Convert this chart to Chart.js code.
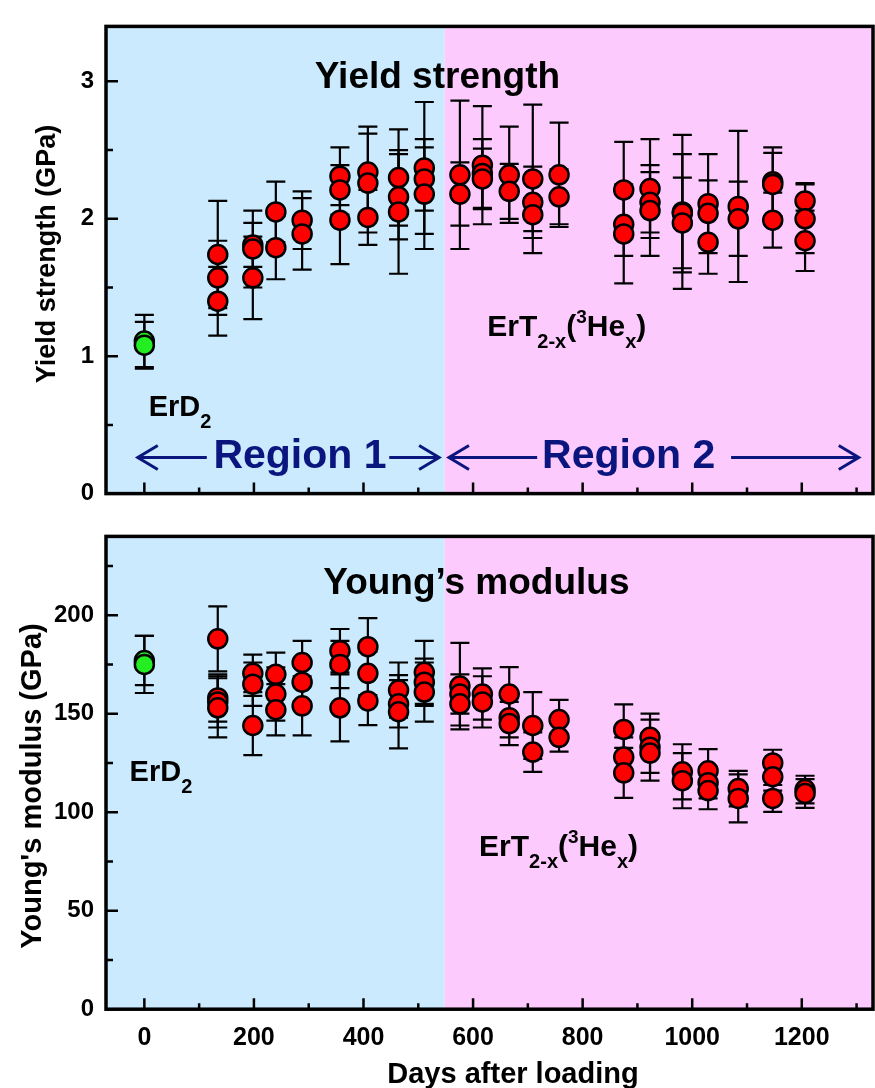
<!DOCTYPE html>
<html>
<head>
<meta charset="utf-8">
<script src="https://cdn.jsdelivr.net/npm/chart.js@4.4.1/dist/chart.umd.min.js"></script>
<style>
  body { margin: 0; background: #fff; }
  #wrap { position: relative; width: 875px; height: 1088px; overflow: hidden; }
  canvas { position: absolute; left: 0; }
  #ysChart { top: 0; }
  #ymChart { top: 510px; }
</style>
</head>
<body>
<div id="wrap">
  <canvas id="ysChart" width="875" height="520"></canvas>
  <canvas id="ymChart" width="875" height="578"></canvas>
</div>
<script>
// ---- data ----
const dayMin = -70;
const dayMax = 1330;
const regionSplit = 548;
const dayTicks = [0, 200, 400, 600, 800, 1000, 1200];
const dayMinorTicks = [100, 300, 500, 700, 900, 1100, 1300];
const yieldTicks = [0, 1, 2, 3];
const yieldMinorTicks = [0.5, 1.5, 2.5];
const modulusTicks = [0, 50, 100, 150, 200];
const modulusMinorTicks = [25, 75, 125, 175, 225];

// ErD2 (green)
const erd2Days = [0, 0];
const erd2Yield = [1.11, 1.08];
const erd2YieldErr = [0.19, 0.17];
const erd2Modulus = [177, 175];
const erd2ModulusErr = [12.5, 14.5];

// ErT2-x(3Hex) (red)
const ertYieldDays = [134, 134, 134, 198, 198, 198, 240, 240, 288, 288, 357, 357, 357, 408, 408, 408,
  464, 464, 464, 511, 511, 511, 576, 576, 617, 617, 617, 666, 666, 709, 709, 709, 757, 757,
  875, 875, 875, 923, 923, 923, 982, 982, 982, 1029, 1029, 1029, 1084, 1084, 1147, 1147, 1147,
  1206, 1206, 1206];
const ertYield = [1.74, 1.57, 1.40, 1.81, 1.78, 1.57, 2.05, 1.79, 1.99, 1.89, 2.31, 2.21, 1.99, 2.34, 2.26, 2.01,
  2.30, 2.16, 2.05, 2.37, 2.29, 2.18, 2.32, 2.18, 2.39, 2.33, 2.29, 2.32, 2.20, 2.29, 2.12, 2.03, 2.32, 2.16,
  2.21, 1.96, 1.89, 2.22, 2.12, 2.06, 2.05, 2.04, 1.97, 2.11, 2.04, 1.83, 2.09, 2.00, 2.27, 2.25, 1.99,
  2.13, 2.00, 1.84];
const ertYieldErr = [0.39, 0.27, 0.25, 0.16, 0.28, 0.30, 0.22, 0.23, 0.21, 0.26, 0.21, 0.18, 0.32, 0.33, 0.36, 0.20,
  0.35, 0.31, 0.45, 0.48, 0.23, 0.40, 0.54, 0.23, 0.43, 0.25, 0.22, 0.35, 0.20, 0.54, 0.26, 0.12, 0.38, 0.20,
  0.35, 0.23, 0.36, 0.36, 0.22, 0.33, 0.56, 0.43, 0.33, 0.36, 0.24, 0.23, 0.55, 0.27, 0.25, 0.23, 0.20,
  0.13, 0.25, 0.22];

const ertModDays = [134, 134, 134, 134, 198, 198, 198, 240, 240, 240, 288, 288, 288, 357, 357, 357,
  408, 408, 408, 464, 464, 464, 511, 511, 511, 576, 576, 576, 617, 617, 666, 666, 666, 709, 709, 757, 757,
  875, 875, 875, 923, 923, 923, 982, 982, 1029, 1029, 1029, 1084, 1084, 1147, 1147, 1147, 1206, 1206];
const ertModulus = [188, 158, 156, 153, 170.5, 165, 144, 170, 160, 152, 176, 166, 154, 182, 175, 153,
  184, 170.5, 156.5, 162, 155, 151, 171, 166, 161, 164, 160, 155, 160, 156, 160, 148, 145, 144, 130.5, 147, 138,
  142, 128, 120, 138, 133, 130, 120.5, 116, 121, 115, 111, 112, 107, 125, 118, 107, 111.5, 109.5];
const ertModulusErr = [16.5, 12, 13, 15, 9.5, 11, 15, 11, 13.5, 13, 11, 10, 15, 11, 12, 17,
  14.5, 11, 12.3, 14, 12, 18.6, 16, 12, 15, 22, 10, 11, 13, 13, 13.6, 10, 11, 17, 10, 10, 7.3,
  12.7, 10, 12.7, 9, 17, 10, 14, 14, 11, 8, 9.5, 9, 12.2, 6.7, 7, 6.8, 7, 7.3];

// ---- styling ----
const FONT = '"Liberation Sans", Arial, Helvetica, sans-serif';
const NAVY = '#0a167e';
const BLUE_BG = '#cbeafd';
const PINK_BG = '#fdcafd';

function pts(xs, ys) {
  return xs.map((x, i) => ({ x: x, y: ys[i] }));
}

function dataset(xs, ys, errs, color) {
  return {
    data: pts(xs, ys),
    errors: errs,
    pointRadius: 9.5,
    pointHoverRadius: 9.5,
    pointBackgroundColor: color,
    pointBorderColor: '#000',
    pointBorderWidth: 2.5,
    showLine: false
  };
}

function rich(ctx, x, y, parts, color) {
  let cx = x;
  ctx.fillStyle = color || '#000';
  ctx.textAlign = 'left';
  ctx.textBaseline = 'alphabetic';
  for (const p of parts) {
    ctx.font = 'bold ' + p.size + 'px ' + FONT;
    ctx.fillText(p.t, cx, y + (p.dy || 0));
    cx += ctx.measureText(p.t).width;
  }
}

function arrow(ctx, x1, x2, y, tipLeft) {
  ctx.beginPath();
  ctx.moveTo(x1, y);
  ctx.lineTo(x2, y);
  const tx = tipLeft ? x1 : x2;
  const d = tipLeft ? 20 : -20;
  ctx.moveTo(tx + d, y - 12);
  ctx.lineTo(tx, y);
  ctx.lineTo(tx + d, y + 12);
  ctx.stroke();
}

const backgroundPlugin = {
  id: 'regions',
  beforeDraw(chart) {
    const { ctx, chartArea: a, scales: { x } } = chart;
    const sx = x.getPixelForValue(regionSplit);
    ctx.save();
    ctx.fillStyle = BLUE_BG;
    ctx.fillRect(a.left, a.top, sx - a.left, a.bottom - a.top);
    ctx.fillStyle = PINK_BG;
    ctx.fillRect(sx, a.top, a.right - sx, a.bottom - a.top);
    ctx.restore();
  }
};

const errorBarPlugin = {
  id: 'errorBars',
  beforeDatasetsDraw(chart) {
    const { ctx, scales: { y } } = chart;
    ctx.save();
    ctx.strokeStyle = '#000';
    ctx.lineWidth = 2.2;
    chart.data.datasets.forEach((ds, i) => {
      const meta = chart.getDatasetMeta(i);
      meta.data.forEach((pt, j) => {
        const v = ds.data[j].y;
        const e = ds.errors[j];
        const top = y.getPixelForValue(v + e);
        const bot = y.getPixelForValue(v - e);
        ctx.beginPath();
        ctx.moveTo(pt.x, top);
        ctx.lineTo(pt.x, bot);
        ctx.moveTo(pt.x - 9.5, top);
        ctx.lineTo(pt.x + 9.5, top);
        ctx.moveTo(pt.x - 9.5, bot);
        ctx.lineTo(pt.x + 9.5, bot);
        ctx.stroke();
      });
    });
    ctx.restore();
  }
};

function framePlugin(yMajor, yMinor, drawText) {
  return {
    id: 'frame',
    afterDraw(chart) {
      const { ctx, chartArea: a, scales: { x, y } } = chart;
      ctx.save();
      ctx.strokeStyle = '#000';
      ctx.lineWidth = 2.5;
      ctx.beginPath();
      dayTicks.forEach(v => {
        const px = x.getPixelForValue(v);
        ctx.moveTo(px, a.bottom);
        ctx.lineTo(px, a.bottom - 11);
      });
      dayMinorTicks.forEach(v => {
        const px = x.getPixelForValue(v);
        ctx.moveTo(px, a.bottom);
        ctx.lineTo(px, a.bottom - 6);
      });
      yMajor.forEach(v => {
        const py = y.getPixelForValue(v);
        ctx.moveTo(a.left, py);
        ctx.lineTo(a.left + 12, py);
      });
      yMinor.forEach(v => {
        const py = y.getPixelForValue(v);
        if (py < a.top + 2) return;
        ctx.moveTo(a.left, py);
        ctx.lineTo(a.left + 7, py);
      });
      ctx.stroke();
      ctx.lineWidth = 3.5;
      ctx.strokeRect(a.left, a.top, a.right - a.left, a.bottom - a.top);
      drawText(ctx, x, y);
      ctx.restore();
    }
  };
}

function xScale(showLabels, height) {
  return {
    type: 'linear',
    min: dayMin,
    max: dayMax,
    afterBuildTicks: s => { s.ticks = dayTicks.map(v => ({ value: v })); },
    afterFit: s => { s.height = height; },
    grid: { display: false, drawTicks: false },
    border: { display: false },
    ticks: {
      display: showLabels, padding: 14, color: '#000', maxRotation: 0, autoSkip: false,
      callback: v => String(v),
      font: { family: FONT, size: 25, weight: 'bold' }
    }
  };
}

function yScale(max, ticks) {
  return {
    type: 'linear',
    min: 0,
    max: max,
    afterBuildTicks: s => { s.ticks = ticks.map(v => ({ value: v })); },
    afterFit: s => { s.width = 106; },
    grid: { display: false, drawTicks: false },
    border: { display: false },
    ticks: {
      padding: 12, color: '#000', autoSkip: false,
      callback: v => String(v),
      font: { family: FONT, size: 24, weight: 'bold' }
    }
  };
}

const baseOptions = {
  responsive: false,
  animation: false,
  devicePixelRatio: 1,
  plugins: { legend: { display: false }, tooltip: { enabled: false } }
};

// ---- top: yield strength ----
new Chart(document.getElementById('ysChart'), {
  type: 'scatter',
  data: {
    datasets: [
      dataset(erd2Days, erd2Yield, erd2YieldErr, '#22ee22'),
      dataset(ertYieldDays, ertYield, ertYieldErr, '#ff0000')
    ]
  },
  options: Object.assign({}, baseOptions, {
    layout: { autoPadding: false, padding: { left: 0, right: 2, top: 7, bottom: 0 } },
    scales: { x: xScale(false, 14), y: yScale(3.4, yieldTicks) }
  }),
  plugins: [backgroundPlugin, errorBarPlugin, framePlugin(yieldTicks, yieldMinorTicks, (ctx, x, y) => {
    ctx.fillStyle = '#000';
    ctx.font = 'bold 37px ' + FONT;
    ctx.textAlign = 'center';
    ctx.fillText('Yield strength', x.getPixelForValue(535), y.getPixelForValue(2.95));
    rich(ctx, x.getPixelForValue(8), y.getPixelForValue(0.565),
      [{ t: 'ErD', size: 29 }, { t: '2', size: 20, dy: 12 }]);
    rich(ctx, x.getPixelForValue(626), y.getPixelForValue(1.15),
      [{ t: 'ErT', size: 30 }, { t: '2-x', size: 20, dy: 12 }, { t: '(', size: 30 },
       { t: '3', size: 19, dy: -13 }, { t: 'He', size: 30 }, { t: 'x', size: 20, dy: 12 }, { t: ')', size: 30 }]);
    // region arrows
    ctx.strokeStyle = NAVY;
    ctx.lineWidth = 3;
    const ay = y.getPixelForValue(0.263);
    arrow(ctx, x.getPixelForValue(-12), x.getPixelForValue(114), ay, true);
    arrow(ctx, x.getPixelForValue(447), x.getPixelForValue(538), ay, false);
    arrow(ctx, x.getPixelForValue(556), x.getPixelForValue(717), ay, true);
    arrow(ctx, x.getPixelForValue(1071), x.getPixelForValue(1304), ay, false);
    rich(ctx, x.getPixelForValue(126), y.getPixelForValue(0.188), [{ t: 'Region 1', size: 41 }], NAVY);
    rich(ctx, x.getPixelForValue(726), y.getPixelForValue(0.188), [{ t: 'Region 2', size: 41 }], NAVY);
    // axis title
    ctx.save();
    ctx.fillStyle = '#000';
    ctx.translate(55, 254);
    ctx.rotate(-Math.PI / 2);
    ctx.font = 'bold 27px ' + FONT;
    ctx.textAlign = 'center';
    ctx.textBaseline = 'alphabetic';
    ctx.fillText('Yield strength (GPa)', 0, 0);
    ctx.restore();
  })]
});

// ---- bottom: Young's modulus ----
new Chart(document.getElementById('ymChart'), {
  type: 'scatter',
  data: {
    datasets: [
      dataset(erd2Days, erd2Modulus, erd2ModulusErr, '#22ee22'),
      dataset(ertModDays, ertModulus, ertModulusErr, '#ff0000')
    ]
  },
  options: Object.assign({}, baseOptions, {
    layout: { autoPadding: false, padding: { left: 0, right: 2, top: 3.5, bottom: 0 } },
    scales: { x: xScale(true, 78.8), y: yScale(240, modulusTicks) }
  }),
  plugins: [backgroundPlugin, errorBarPlugin, framePlugin(modulusTicks, modulusMinorTicks, (ctx, x, y) => {
    ctx.fillStyle = '#000';
    ctx.font = 'bold 37px ' + FONT;
    ctx.textAlign = 'center';
    ctx.fillText('Young\u2019s modulus', x.getPixelForValue(606), y.getPixelForValue(211));
    rich(ctx, x.getPixelForValue(-27), y.getPixelForValue(115.7),
      [{ t: 'ErD', size: 29 }, { t: '2', size: 20, dy: 12 }]);
    rich(ctx, x.getPixelForValue(611), y.getPixelForValue(77.6),
      [{ t: 'ErT', size: 30 }, { t: '2-x', size: 20, dy: 12 }, { t: '(', size: 30 },
       { t: '3', size: 19, dy: -13 }, { t: 'He', size: 30 }, { t: 'x', size: 20, dy: 12 }, { t: ')', size: 30 }]);
    // axis titles
    ctx.save();
    ctx.fillStyle = '#000';
    ctx.translate(41, 276);
    ctx.rotate(-Math.PI / 2);
    ctx.font = 'bold 29px ' + FONT;
    ctx.textAlign = 'center';
    ctx.textBaseline = 'alphabetic';
    ctx.fillText("Young's modulus (GPa)", 0, 0);
    ctx.restore();
    ctx.fillStyle = '#000';
    ctx.font = 'bold 29px ' + FONT;
    ctx.textAlign = 'center';
    ctx.textBaseline = 'alphabetic';
    ctx.fillText('Days after loading', 513, 573);
  })]
});
</script>
</body>
</html>
